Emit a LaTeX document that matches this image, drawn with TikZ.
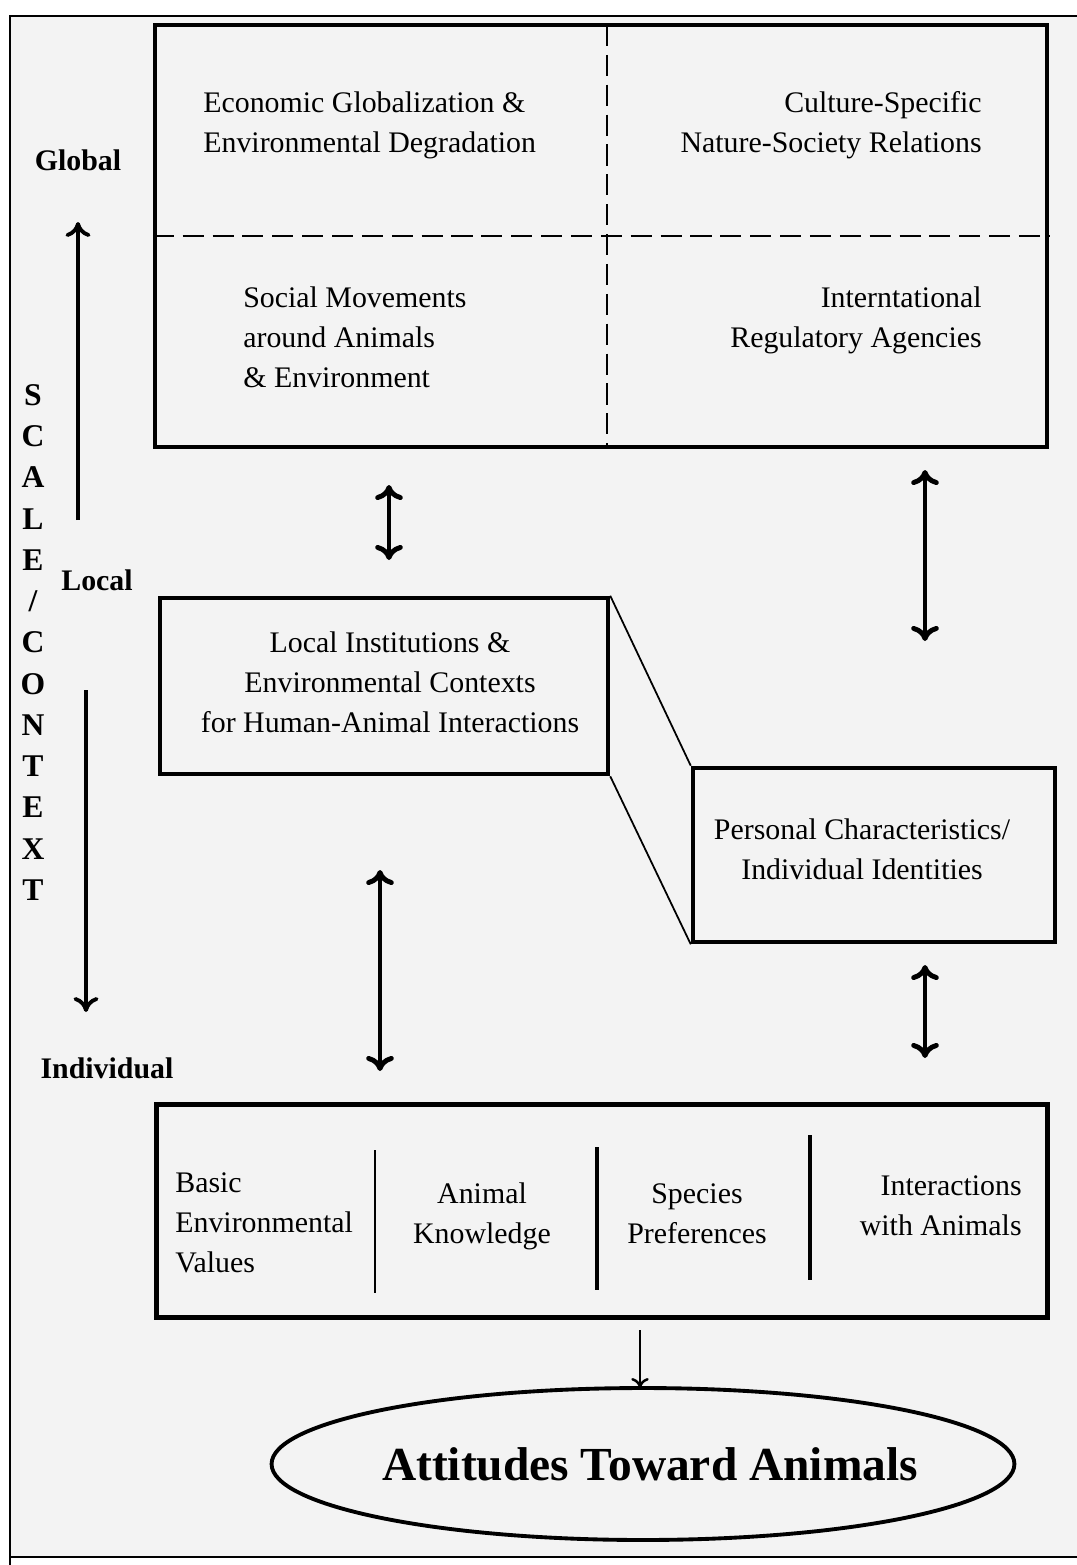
\documentclass[tikz,border=0pt]{standalone}
\usepackage{fontspec}
\setmainfont{Liberation Serif}
\usetikzlibrary{arrows.meta, shapes.geometric}

\newcommand{\boxfont}{\fontsize{17}{22.8}\selectfont}
\newcommand{\sidefont}{\fontsize{17}{20}\selectfont\bfseries}

\begin{document}
\begin{tikzpicture}[x=0.02cm, y=-0.02cm,
    frameline/.style={draw=borderColour, line width=1.3pt},
    boxline/.style={draw=borderColour, line width=2.6pt, inner sep=0pt},
    divline/.style={draw=borderColour, line width=1.6pt, dash pattern=on 12pt off 5pt},
    sepline/.style={draw=borderColour, line width=1.8pt},
    tagline/.style={draw=borderColour, line width=1pt},
    label/.style={inner sep=0pt, font=\boxfont},
    sidelabel/.style={inner sep=0pt, font=\sidefont},
    linkarrow/.style={line width=2.8pt, {Computer Modern Rightarrow[length=3mm,width=5.5mm]}-{Computer Modern Rightarrow[length=3mm,width=5.5mm]}},
    scalearrow/.style={line width=2.2pt, -{Computer Modern Rightarrow[length=3mm,width=5mm]}},
    downarrow/.style={line width=1.4pt, -{Computer Modern Rightarrow[length=2mm,width=3.5mm]}}]
    \definecolor{borderColour}{HTML}{000000}
    \definecolor{fillColour}{HTML}{F3F3F3}

    \useasboundingbox (0,0) rectangle (1077,1565);

    % Draw paper and frame
    \fill[fillColour] (10,16) rectangle (1077,1557);
    \draw[frameline] (1077,16) -- (10,16) -- (10,1565);
    \draw[frameline] (10,1557) -- (1077,1557);

    % Draw the global box with its four quarters
    \node[boxline, minimum width=17.84cm, minimum height=8.44cm] (globalBox) at (601,236) {};
    \draw[divline] (607,25) -- (607,447);
    \draw[divline] (globalBox.west) -- (globalBox.east);

    \node[label, anchor=west, align=left] (econ) at (203,125) {Economic Globalization \&\\Environmental Degradation};
    \node[label, anchor=east, align=right] (culture) at (982,125) {Culture-Specific\\Nature-Society Relations};
    \node[label, anchor=west, align=left] (social) at (243,337) {Social Movements\\around Animals\\\& Environment};
    \node[label, anchor=east, align=right] (agency) at (982,320) {Interntational\\Regulatory Agencies};

    % Draw the local and personal boxes
    \node[boxline, minimum width=8.96cm, minimum height=3.52cm] (localBox) at (384,686) {};
    \node[label, align=center] (localTxt) at (390,682) {Local Institutions \&\\Environmental Contexts\\for Human-Animal Interactions};

    \node[boxline, minimum width=7.24cm, minimum height=3.48cm] (personBox) at (874,855) {};
    \node[label, align=center] (personTxt) at (862,849) {Personal Characteristics/\\Individual Identities};

    \draw[tagline] (localBox.north east) -- (personBox.north west);
    \draw[tagline] (localBox.south east) -- (personBox.south west);

    % Draw the individual box
    \node[boxline, minimum width=17.82cm, minimum height=4.26cm] (indivBox) at (602,1211) {};
    \draw[sepline, line width=1.3pt] (375,1150) -- (375,1293);
    \draw[sepline] (597,1147) -- (597,1290);
    \draw[sepline] (810,1135) -- (810,1280);

    \node[label, anchor=west, align=left] (values) at (175,1223) {Basic\\Environmental\\Values};
    \node[label, align=center] (knowledge) at (482,1216) {Animal\\Knowledge};
    \node[label, align=center] (species) at (697,1214) {Species\\Preferences};
    \node[label, anchor=east, align=right] (contact) at (1022,1206) {Interactions\\with Animals};

    % Attitudes
    \node[ellipse, draw=borderColour, line width=2.2pt, inner sep=0pt, outer sep=0pt,
          minimum width=14.86cm, minimum height=3.04cm] (attitude) at (643,1464) {};
    \node[inner sep=0pt, font=\fontsize{27}{30}\selectfont\bfseries] (attTxt) at (650,1464) {Attitudes Toward Animals};

    % Links between levels
    \coordinate (A) at (389,485);
    \coordinate (B) at (389,560);
    \coordinate (C) at (925,470);
    \coordinate (D) at (925,641);
    \coordinate (E) at (380,870);
    \coordinate (F) at (380,1071);
    \coordinate (G) at (925,965);
    \coordinate (H) at (925,1058);
    \coordinate (I) at (640,1330);

    \draw[linkarrow] (A) -- (B);
    \draw[linkarrow] (C) -- (D);
    \draw[linkarrow] (E) -- (F);
    \draw[linkarrow] (G) -- (H);
    \draw[downarrow] (I) -- (attitude.north -| I);

    % Scale / context axis
    \node[sidelabel] (global) at (78,160) {Global};
    \node[sidelabel] (local) at (97,580) {Local};
    \node[sidelabel] (indiv) at (107,1068) {Individual};

    \coordinate (upTail) at (78,520);
    \coordinate (upTip) at (78,222);
    \coordinate (downTail) at (86,690);
    \coordinate (downTip) at (86,1012);
    \draw[scalearrow] (upTail) -- (upTip);
    \draw[scalearrow] (downTail) -- (downTip);

    \foreach \ch [count=\i] in {S,C,A,L,E,/,C,O,N,T,E,X,T}
        \node[inner sep=0pt, font=\fontsize{18}{20}\selectfont\bfseries] (scale\i) at (33,{395+41.25*(\i-1)}) {\ch};

\end{tikzpicture}
\end{document}
